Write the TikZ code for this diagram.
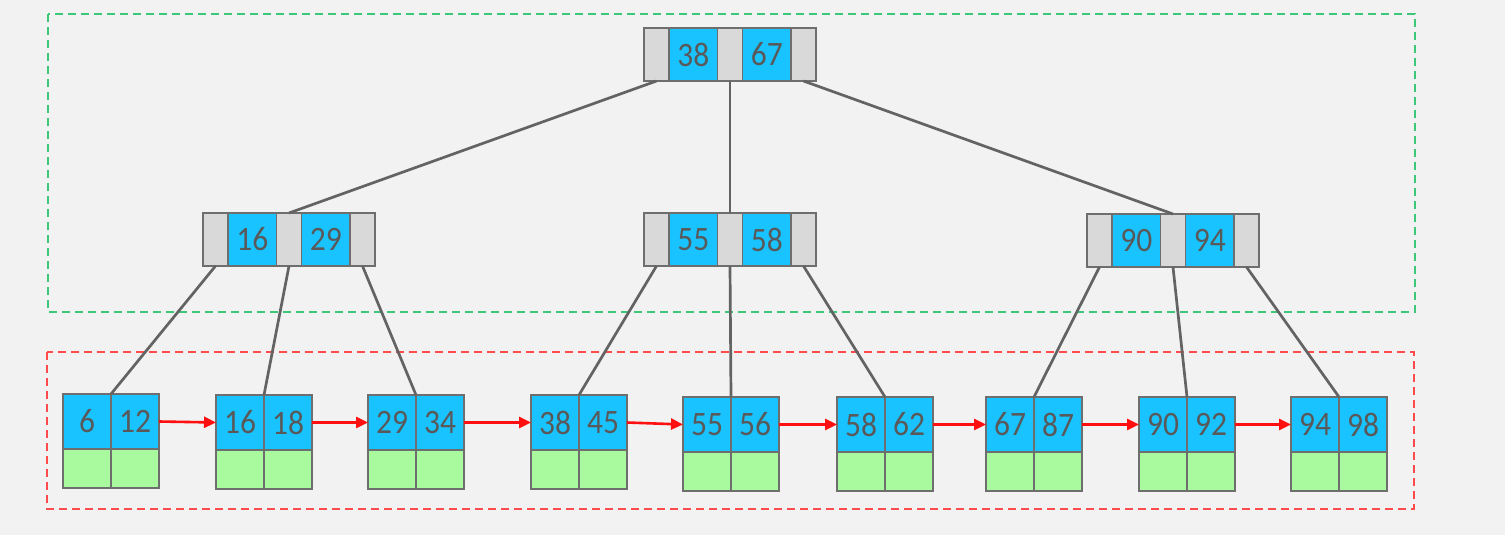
\documentclass[tikz,border=0pt]{standalone}
\usepackage{fontspec}
\setmainfont{Carlito}
\usetikzlibrary{arrows.meta}

\definecolor{bgcol}{HTML}{F2F2F2}
\definecolor{edgegray}{HTML}{6E6E6E}
\definecolor{linkgray}{HTML}{636363}
\definecolor{textgray}{HTML}{595959}
\definecolor{ptrgray}{HTML}{D9D9D9}
\definecolor{keyblue}{HTML}{19C3FF}
\definecolor{datagreen}{HTML}{A9F99F}
\definecolor{zonegreen}{HTML}{3CC878}
\definecolor{zonered}{HTML}{FF4B4B}
\definecolor{nextred}{HTML}{FF1010}

\tikzset{
  cell/.style={draw=edgegray, line width=1.4pt, inner sep=0pt, outer sep=0pt,
    anchor=north west, text=textgray,
    font=\fontsize{30}{32}\selectfont},
  ptrcell/.style={cell, fill=ptrgray, minimum width=25pt, minimum height=53pt},
  keycell/.style={cell, fill=keyblue, minimum width=48.5pt, minimum height=53pt},
  leafkey/.style={cell, fill=keyblue, minimum width=48pt, minimum height=55pt},
  leafdata/.style={cell, fill=datagreen, minimum width=48pt, minimum height=39pt},
  treeedge/.style={draw=linkgray, line width=2.7pt},
  nextlink/.style={draw=nextred, line width=2.6pt,
    -{Triangle[length=12pt,width=11pt]}},
  zone/.style={line width=1.2pt, dash pattern=on 8pt off 5pt},
}

% key text, set a little taller than the plain font
\newcommand{\keytext}[1]{\scalebox{1.05}[1.14]{#1}}

% internal node: pointer | key | pointer | key | pointer
\newcommand{\innernode}[5]{%
  \node[ptrcell] (#1-p0) at (#2,#3) {};
  \node[keycell] (#1-k1) at (#1-p0.north east) {\keytext{#4}};
  \node[ptrcell] (#1-p1) at (#1-k1.north east) {};
  \node[keycell] (#1-k2) at (#1-p1.north east) {\keytext{#5}};
  \node[ptrcell] (#1-p2) at (#1-k2.north east) {};
}

% leaf node: two keys with their data cells below
\newcommand{\leafnode}[5]{%
  \node[leafkey] (#1a) at (#2,#3) {\keytext{#4}};
  \node[leafkey] (#1b) at (#1a.north east) {\keytext{#5}};
  \node[leafdata] (#1ad) at (#1a.south west) {};
  \node[leafdata] (#1bd) at (#1b.south west) {};
}

\begin{document}
\begin{tikzpicture}[x=1pt, y=-1pt]
  \useasboundingbox (0,0) rectangle (1505,535);
  \fill[bgcol] (0,0) rectangle (1505,535);

  % index levels and leaf level
  \draw[zone, zonegreen] (48,14) rectangle (1415,312);
  \draw[zone, zonered] (47,352) rectangle (1414,509);

  % index nodes
  \innernode{root}{644}{28}{38}{67}
  \innernode{na}{203}{213}{16}{29}
  \innernode{nb}{644}{213}{55}{58}
  \innernode{nc}{1087}{214}{90}{94}

  % leaves
  \leafnode{la}{63}{394}{6}{12}
  \leafnode{lb}{216}{395}{16}{18}
  \leafnode{lc}{368}{395}{29}{34}
  \leafnode{ld}{531}{395}{38}{45}
  \leafnode{le}{683}{397}{55}{56}
  \leafnode{lf}{837}{397}{58}{62}
  \leafnode{lg}{986}{397}{67}{87}
  \leafnode{lh}{1139}{397}{90}{92}
  \leafnode{li}{1291}{397}{94}{98}

  % tree edges
  \draw[treeedge] (root-p0.south) -- (na-p1.north);
  \draw[treeedge] (root-p1.south) -- (nb-p1.north);
  \draw[treeedge] (root-p2.south) -- (nc-p1.north);

  \draw[treeedge] (na-p0.south) -- (laa.north east);
  \draw[treeedge] (na-p1.south) -- (lba.north east);
  \draw[treeedge] (na-p2.south) -- (lca.north east);

  \draw[treeedge] (nb-p0.south) -- (lda.north east);
  \draw[treeedge] (nb-p1.south) -- (lea.north east);
  \draw[treeedge] (nb-p2.south) -- (lfa.north east);

  \draw[treeedge] (nc-p0.south) -- (lga.north east);
  \draw[treeedge] (nc-p1.south) -- (lha.north east);
  \draw[treeedge] (nc-p2.south) -- (lia.north east);

  % leaf chain
  \draw[nextlink] (lab.east) -- (lba.west);
  \draw[nextlink] (lbb.east) -- (lca.west);
  \draw[nextlink] (lcb.east) -- (lda.west);
  \draw[nextlink] (ldb.east) -- (lea.west);
  \draw[nextlink] (leb.east) -- (lfa.west);
  \draw[nextlink] (lfb.east) -- (lga.west);
  \draw[nextlink] (lgb.east) -- (lha.west);
  \draw[nextlink] (lhb.east) -- (lia.west);
\end{tikzpicture}
\end{document}
